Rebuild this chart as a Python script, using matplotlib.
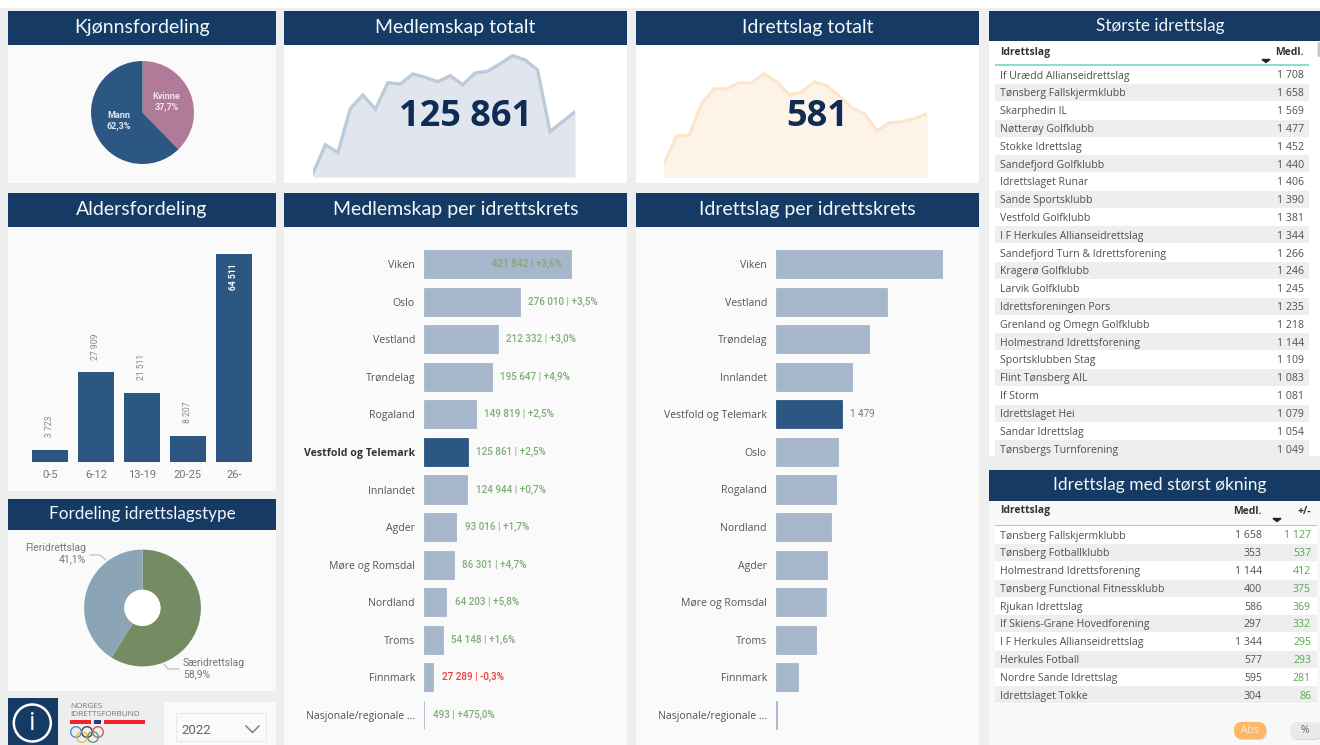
import matplotlib
matplotlib.use("Agg")
import matplotlib.pyplot as plt
from matplotlib.patches import Rectangle, Circle, FancyBboxPatch

# Data
gender_labels = ["Kvinne", "Mann"]
gender_share = [37.7, 62.3]

age_groups = ["0-5", "6-12", "13-19", "20-25", "26-"]
age_members = [3723, 27909, 21511, 8207, 64511]

club_types = ["Særidrettslag", "Fleridrettslag"]
club_type_share = [58.9, 41.1]

members_trend = [110460, 117610, 115610, 126710, 130040, 126460, 133110, 132790, 135290, 134460, 133360,
                 134860, 132610, 135540, 135960, 137860, 139860, 138790, 136290, 120860, 123360, 125861]
clubs_trend = [531, 559, 559, 591, 606, 606, 612, 612, 621, 613, 600,
               603, 613, 609, 599, 587, 581, 564, 572, 573, 576, 581]

members_regions = ["Viken", "Oslo", "Vestland", "Trøndelag", "Rogaland", "Vestfold og Telemark", "Innlandet",
                   "Agder", "Møre og Romsdal", "Nordland", "Troms", "Finnmark", "Nasjonale/regionale ..."]
members_values = [421842, 276010, 212332, 195647, 149819, 125861, 124944, 93016, 86301, 64203, 54148, 27289, 493]
members_change = [3.6, 3.5, 3.0, 4.9, 2.5, 2.5, 0.7, 1.7, 4.7, 5.8, 1.6, -0.3, 475.0]

clubs_regions = ["Viken", "Vestland", "Trøndelag", "Innlandet", "Vestfold og Telemark", "Oslo", "Rogaland",
                 "Nordland", "Agder", "Møre og Romsdal", "Troms", "Finnmark", "Nasjonale/regionale ..."]
clubs_values = [3720, 2488, 2085, 1704, 1479, 1390, 1345, 1233, 1143, 1121, 897, 493, 30]

largest_names = ["If Urædd Allianseidrettslag", "Tønsberg Fallskjermklubb", "Skarphedin IL", "Nøtterøy Golfklubb",
                 "Stokke Idrettslag", "Sandefjord Golfklubb", "Idrettslaget Runar", "Sande Sportsklubb",
                 "Vestfold Golfklubb", "I F Herkules Allianseidrettslag", "Sandefjord Turn & Idrettsforening",
                 "Kragerø Golfklubb", "Larvik Golfklubb", "Idrettsforeningen Pors", "Grenland og Omegn Golfklubb",
                 "Holmestrand Idrettsforening", "Sportsklubben Stag", "Flint Tønsberg AIL", "If Storm",
                 "Idrettslaget Hei", "Sandar Idrettslag", "Tønsbergs Turnforening"]
largest_members = [1708, 1658, 1569, 1477, 1452, 1440, 1406, 1390, 1381, 1344, 1266,
                   1246, 1245, 1235, 1218, 1144, 1109, 1083, 1081, 1079, 1054, 1049]

growth_names = ["Tønsberg Fallskjermklubb", "Tønsberg Fotballklubb", "Holmestrand Idrettsforening",
                "Tønsberg Functional Fitnessklubb", "Rjukan Idrettslag", "If Skiens-Grane Hovedforening",
                "I F Herkules Allianseidrettslag", "Herkules Fotball", "Nordre Sande Idrettslag", "Idrettslaget Tokke"]
growth_members = [1658, 353, 1144, 400, 586, 297, 1344, 577, 595, 304]
growth_change = [1127, 537, 412, 375, 369, 332, 295, 293, 281, 86]

W, H = 1320, 745
NAVY = "#153A64"
DARK_BAR = "#2B5782"
LIGHT_BAR = "#A6B7CB"
PANEL = "#FAFAFA"
BODY_FONT = "Open Sans"
LABEL_FONT = "Roboto"
TITLE_FONT = "Lato"

plt.rcParams["font.family"] = [BODY_FONT, "DejaVu Sans"]

fig = plt.figure(figsize=(W / 100, H / 100), dpi=100, facecolor="#EEEEEE")
bg = fig.add_axes([0, 0, 1, 1])
bg.set_xlim(0, W)
bg.set_ylim(H, 0)
bg.axis("off")

# second full size layer for whatever sits on top of the charts
top = fig.add_axes([0, 0, 1, 1], zorder=10)
top.set_xlim(0, W)
top.set_ylim(H, 0)
top.axis("off")
top.patch.set_alpha(0)


def px_axes(x0, y0, x1, y1):
    # axes placed by pixel box, y counted from the top of the picture
    ax = fig.add_axes([x0 / W, 1 - y1 / H, (x1 - x0) / W, (y1 - y0) / H])
    ax.patch.set_alpha(0)
    return ax


def box(x0, y0, x1, y1, color, zorder=1):
    bg.add_patch(Rectangle((x0, y0), x1 - x0, y1 - y0, facecolor=color, edgecolor="none", zorder=zorder))


def header(x0, y0, x1, y1, title, size=14, cx=None):
    box(x0, y0, x1, y1, NAVY, zorder=2)
    cx = (x0 + x1) / 2 if cx is None else cx
    bg.text(cx, (y0 + y1) / 2 - 0.5, title, color="#F4F7FA", fontsize=size, family=TITLE_FONT,
            ha="center", va="center", zorder=3)


def fmt(v):
    return f"{v:,}".replace(",", " ")


def fmt_pct(p):
    return f"{p:+.1f}%".replace(".", ",")


# page and panels
box(0, 0, W, 8, "white")
box(8, 45, 276, 183, PANEL)
box(284, 45, 627, 183, "white")
box(636, 45, 979, 183, "white")
box(8, 227, 276, 491, PANEL)
box(284, 227, 627, H, PANEL)
box(636, 227, 979, H, PANEL)
box(8, 530, 276, 691, PANEL)
box(989, 41, W, 456, "white")
box(989, 501, W, H, "#F8F8F8")

header(8, 11, 276, 45, "Kjønnsfordeling")
header(284, 11, 627, 45, "Medlemskap totalt")
header(636, 11, 979, 45, "Idrettslag totalt")
header(8, 193, 276, 227, "Aldersfordeling")
header(284, 193, 627, 227, "Medlemskap per idrettskrets")
header(636, 193, 979, 227, "Idrettslag per idrettskrets")
header(8, 499, 276, 530, "Fordeling idrettslagstype", size=12.3)
header(989, 11, W, 41, "Største idrettslag", size=12.3, cx=1160)
header(989, 470, W, 501, "Idrettslag med størst økning", size=12.5, cx=1160)

# gender pie
ax = px_axes(90.5, 60.5, 194.5, 164.5)
ax.pie(gender_share, colors=["#B07B99", DARK_BAR], startangle=90, counterclock=False, radius=1,
       wedgeprops={"linewidth": 0})
ax.set_xlim(-1.01, 1.01)
ax.set_ylim(-1.01, 1.01)
top.text(166.5, 101.5, f"{gender_labels[0]}\n{gender_share[0]:.1f}%".replace(".", ","), color="#F1E3EA", fontsize=6.5,
         family=LABEL_FONT, weight="bold", ha="center", va="center", linespacing=1.15)
top.text(119, 121, f"{gender_labels[1]}\n{gender_share[1]:.1f}%".replace(".", ","), color="#E3EAF1", fontsize=6.5,
         family=LABEL_FONT, weight="bold", ha="center", va="center", linespacing=1.15)

# sparkline cards
ax = px_axes(313, 50, 575, 177)
ax.fill_between(range(len(members_trend)), members_trend, 109536, color="#E1E6EE", lw=0)
ax.plot(range(len(members_trend)), members_trend, color="#BCCBDA", lw=2.4, solid_joinstyle="miter")
ax.set_xlim(0, len(members_trend) - 1)
ax.set_ylim(109536, 141286)
ax.axis("off")

ax = px_axes(664, 50, 927, 177.5)
ax.fill_between(range(len(clubs_trend)), clubs_trend, 517, color="#FDF3E8", lw=0)
ax.plot(range(len(clubs_trend)), clubs_trend, color="#FDE5C8", lw=2.2, solid_joinstyle="miter")
ax.set_xlim(0, len(clubs_trend) - 1)
ax.set_ylim(517, 645)
ax.axis("off")

top.text(466, 117, fmt(members_trend[-1]), color="#0F2C55", fontsize=26, weight="bold", ha="center", va="center")
top.text(817, 117, fmt(clubs_trend[-1]), color="#0F2C55", fontsize=26, weight="bold", ha="center", va="center")

# age bars
ax = px_axes(27, 245, 257, 462)
ax.bar(range(len(age_groups)), age_members, width=0.78, color=DARK_BAR)
ax.set_xlim(-0.5, 4.5)
ax.set_ylim(0, 64511 * 217 / 208)
ax.set_xticks(range(len(age_groups)))
ax.set_xticklabels(age_groups, fontsize=8, color="#777777", family=LABEL_FONT)
ax.tick_params(length=0, pad=5.5)
ax.set_yticks([])
for s in ax.spines.values():
    s.set_visible(False)
for i, v in enumerate(age_members):
    if v == max(age_members):
        ax.annotate(fmt(v), (i, v), xytext=(0, -6.5), textcoords="offset points", rotation=90, ha="center", va="top",
                    fontsize=6.2, color="white", family=LABEL_FONT, weight="bold")
    else:
        ax.annotate(fmt(v), (i, v), xytext=(0, 9), textcoords="offset points", rotation=90, ha="center", va="bottom",
                    fontsize=6.2, color="#888888", family=LABEL_FONT)

# club type donut
ax = px_axes(83.5, 549, 201.5, 667)
ax.pie(club_type_share, colors=["#738C63", "#8BA5B6"], startangle=90, counterclock=False, radius=1,
       wedgeprops={"linewidth": 0, "width": 0.69})
ax.set_xlim(-1.01, 1.01)
ax.set_ylim(-1.01, 1.01)
top.add_patch(Circle((142.3, 607.7), 18, facecolor="white", edgecolor="none"))
top.plot([90, 100, 106], [555, 555, 560], color="#BBBBBB", lw=0.8)
top.plot([164, 168, 179], [664, 669, 669], color="#BBBBBB", lw=0.8)
top.text(86, 554, f"{club_types[1]}\n{club_type_share[1]:.1f}%".replace(".", ","), color="#777777", fontsize=7.5,
         family=LABEL_FONT, ha="right", va="center", linespacing=1.15)
top.text(183, 669, f"{club_types[0]}\n{club_type_share[0]:.1f}%".replace(".", ","), color="#777777", fontsize=7.5,
         family=LABEL_FONT, ha="left", va="center", linespacing=1.15)


def region_bars(x0, x1, regions, values, xmax):
    ax = px_axes(x0, 245.2, x1, 733.8)
    colors = [DARK_BAR if r == "Vestfold og Telemark" else LIGHT_BAR for r in regions]
    ax.barh(range(len(regions)), values, height=0.745, color=colors, edgecolor=colors, linewidth=0.6)
    ax.set_ylim(len(regions) - 0.5, -0.5)
    ax.set_xlim(0, xmax)
    ax.set_xticks([])
    ax.set_yticks(range(len(regions)))
    ax.set_yticklabels(regions, fontsize=7.6, color="#555555")
    ax.tick_params(length=0, pad=6.5)
    for s in ax.spines.values():
        s.set_visible(False)
    return ax


# members per region
ax = region_bars(424, 627, members_regions, members_values, 421842 * 203 / 146.5)
for i, (r, v, p) in enumerate(zip(members_regions, members_values, members_change)):
    if r == "Vestfold og Telemark":
        ax.get_yticklabels()[i].set_fontweight("bold")
        ax.get_yticklabels()[i].set_color("#333333")
    text = f"{fmt(v)} | {fmt_pct(p)}"
    color = "#F03A3A" if p < 0 else "#7FAD78"
    if i == 0:
        ax.annotate(text, (v, i), xytext=(-6, 0), textcoords="offset points", ha="right", va="center",
                    fontsize=7.1, color="#7FA67C", family=LABEL_FONT, weight="medium")
    else:
        ax.annotate(text, (v, i), xytext=(6, 0), textcoords="offset points", ha="left", va="center",
                    fontsize=7.1, color=color, family=LABEL_FONT, weight="medium")

# clubs per region, only the highlighted bar has a value label
ax = region_bars(776, 979, clubs_regions, clubs_values, 3720 * 203 / 166)
for i, (r, v) in enumerate(zip(clubs_regions, clubs_values)):
    if r == "Vestfold og Telemark":
        ax.annotate(fmt(v), (v, i), xytext=(6, 0), textcoords="offset points", ha="left", va="center",
                    fontsize=7.1, color="#777777", family=LABEL_FONT)

TABLE_TEXT = "#505050"
HEAD_TEXT = "#333333"
TEAL = "#8ADDD2"

# largest clubs table
bg.text(1000, 52.5, "Idrettslag", fontsize=7.5, weight="bold", color=HEAD_TEXT, ha="left", va="center", zorder=3)
bg.text(1304, 52.5, "Medl.", fontsize=7.5, weight="bold", color=HEAD_TEXT, ha="right", va="center", zorder=3)
bg.fill([1262, 1270, 1266], [59.5, 59.5, 62.5], color="#222222", zorder=3)
box(995, 64, 1309, 65.5, TEAL, zorder=3)
bg.add_patch(FancyBboxPatch((1317.5, 42), 4, 15, boxstyle="round,pad=0,rounding_size=2", facecolor="#C8C8C8",
                            edgecolor="none", zorder=3))
for i, (n, v) in enumerate(zip(largest_names, largest_members)):
    y = 75 + i * 17.81
    if i % 2 == 1:
        box(995, y - 8.8, 1309, y + 8.2, "#EEEEEE", zorder=2)
    bg.text(1000, y + 1, n, fontsize=7.6, color=TABLE_TEXT, ha="left", va="center", zorder=3)
    bg.text(1304, y + 1, fmt(v), fontsize=7.6, color=TABLE_TEXT, ha="right", va="center", zorder=3)
# last row is cut off by the panel edge
box(989, 456, W, 470, "#EEEEEE", zorder=4)

# biggest growth table
bg.text(1000, 511, "Idrettslag", fontsize=7.5, weight="bold", color=HEAD_TEXT, ha="left", va="center", zorder=3)
bg.text(1262, 511, "Medl.", fontsize=7.5, weight="bold", color=HEAD_TEXT, ha="right", va="center", zorder=3)
bg.text(1311, 511, "+/-", fontsize=7.5, weight="bold", color=HEAD_TEXT, ha="right", va="center", zorder=3)
bg.fill([1273, 1281, 1277], [518.5, 518.5, 521.5], color="#222222", zorder=3)
box(995, 526, 1317, 704, "white", zorder=2)
box(995, 524.5, 1317, 526, "#7FDDD2", zorder=3)
for i, (n, v, c) in enumerate(zip(growth_names, growth_members, growth_change)):
    y = 535 + i * 17.78
    if i % 2 == 1:
        box(995, y - 8.8, 1317, y + 8.4, "#EEEEEE", zorder=2)
    bg.text(1000, y + 1, n, fontsize=7.6, color=TABLE_TEXT, ha="left", va="center", zorder=3)
    bg.text(1262, y + 1, fmt(v), fontsize=7.6, color=TABLE_TEXT, ha="right", va="center", zorder=3)
    bg.text(1311, y + 1, fmt(c), fontsize=7.6, color="#55A84F", ha="right", va="center", zorder=3)

# Abs / % buttons
bg.add_patch(FancyBboxPatch((1235, 723), 32, 17, boxstyle="round,pad=0,rounding_size=8", facecolor="#D9D9D9",
                            edgecolor="none", zorder=2))
bg.add_patch(FancyBboxPatch((1234, 722), 32, 17, boxstyle="round,pad=0,rounding_size=8", facecolor="#FDB766",
                            edgecolor="none", zorder=3))
bg.text(1250, 730.5, "Abs", fontsize=7.5, color="#FCEBD8", ha="center", va="center", zorder=4)
bg.add_patch(FancyBboxPatch((1291, 723), 32, 17, boxstyle="round,pad=0,rounding_size=8", facecolor="#D6D6D6",
                            edgecolor="none", zorder=2))
bg.add_patch(FancyBboxPatch((1290, 722), 32, 17, boxstyle="round,pad=0,rounding_size=8", facecolor="#EAEAEA",
                            edgecolor="none", zorder=3))
bg.text(1305, 730.5, "%", fontsize=7.5, color="#666666", ha="center", va="center", zorder=4)

# info button
box(8, 698, 58, H, NAVY, zorder=2)
bg.add_patch(Circle((32.3, 723), 18.5, facecolor="none", edgecolor="white", lw=1.8, zorder=3))
bg.text(32.3, 723, "i", fontsize=19, color="white", ha="center", va="center", zorder=4)

# federation logo
bg.text(70, 707, "NORGES", fontsize=5.9, color="#777777", ha="left", va="center", zorder=3)
bg.text(70, 714.5, "IDRETTSFORBUND", fontsize=5.9, color="#777777", ha="left", va="center", zorder=3)
box(70, 720, 91, 723.5, "#F5222D", zorder=3)
box(94, 720, 101, 723.5, "#1F3F7A", zorder=3)
box(104, 720, 145, 723.5, "#F5222D", zorder=3)
for cx, cy, c in [(76, 732, "#4A90D9"), (87, 732, "#444444"), (98, 732, "#E0526E"),
                  (82, 737, "#E8BE4A"), (93, 737, "#4CA866")]:
    bg.add_patch(Circle((cx, cy), 5.3, facecolor="none", edgecolor=c, lw=1, zorder=3))

# year slicer
box(164, 702, 276, H, PANEL, zorder=2)
bg.add_patch(Rectangle((176, 713), 90, 28, facecolor="none", edgecolor="#E8E8E8", lw=0.8, zorder=3))
bg.text(181, 730, "2022", fontsize=9.5, color="#666666", family=LABEL_FONT, ha="left", va="center", zorder=4)
bg.plot([246, 252.5, 259], [726, 732.5, 726], color="#777777", lw=1, zorder=4)

fig.savefig("out.png", dpi=100, facecolor=fig.get_facecolor())
